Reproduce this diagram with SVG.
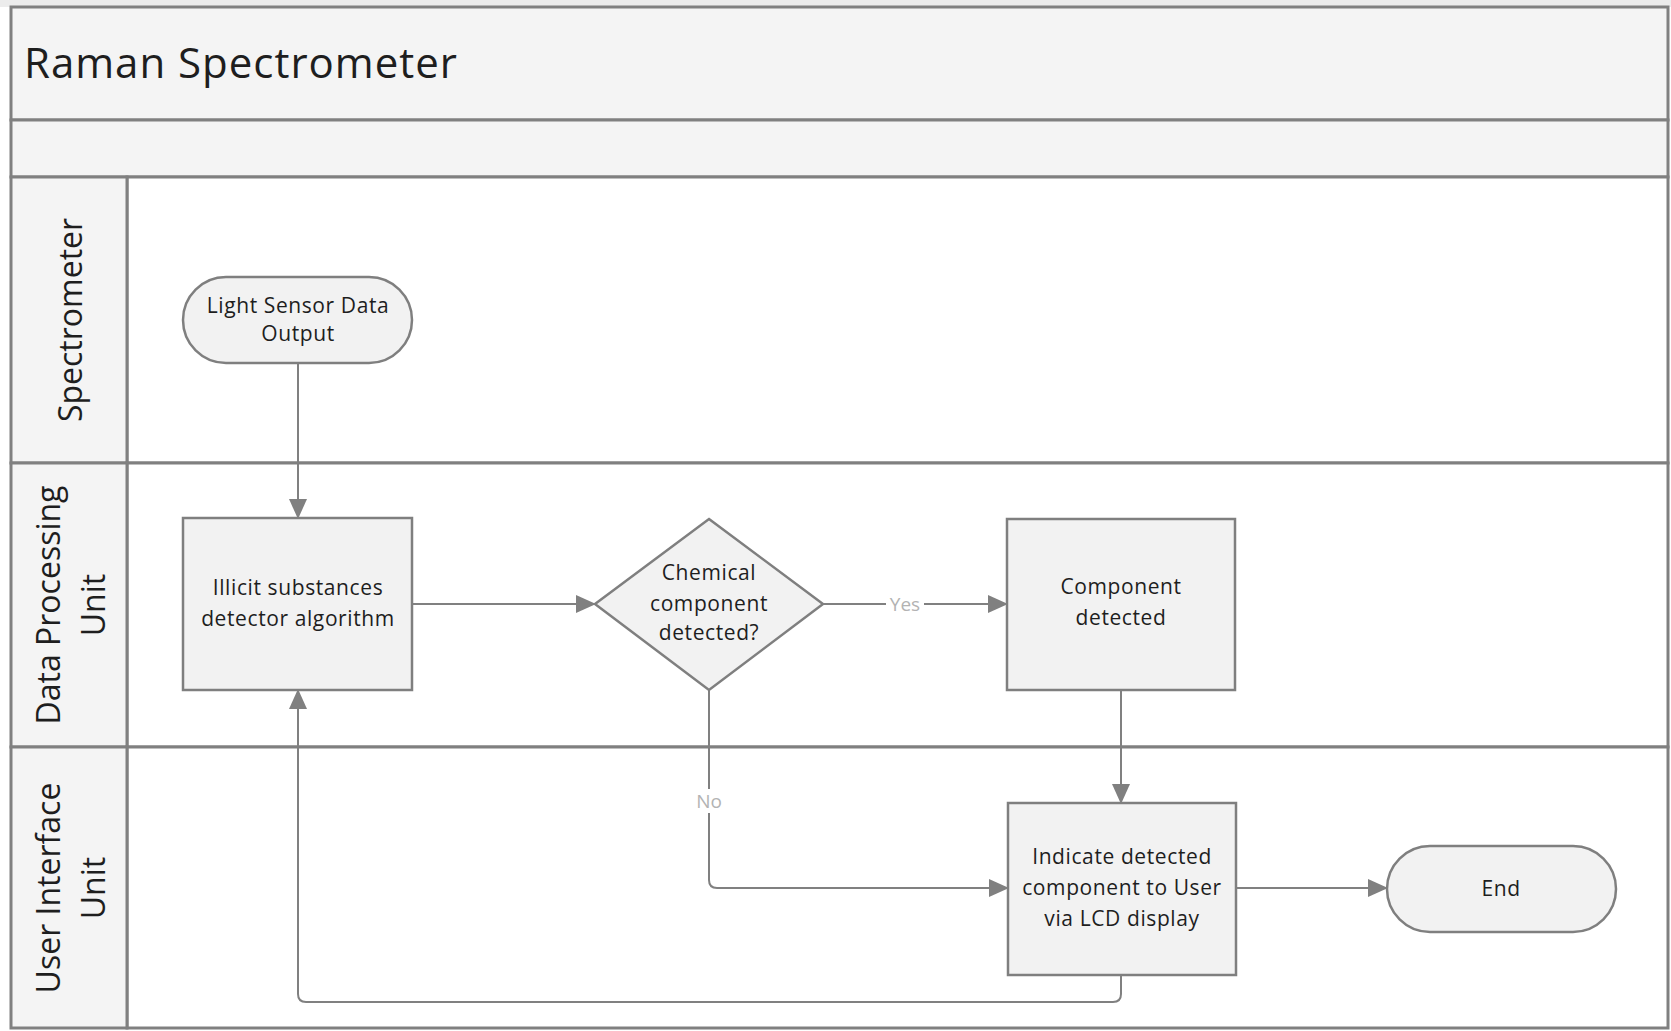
<svg xmlns="http://www.w3.org/2000/svg" width="1671" height="1031" viewBox="0 0 1671 1031">
  <style>
    .band { fill: #f4f4f4; stroke: #808080; stroke-width: 3; }
    .body { fill: #ffffff; stroke: #808080; stroke-width: 3; }
    .shape { fill: #f2f2f2; stroke: #7f7f7f; stroke-width: 2.5; }
    .txt { font-family: "Open Sans", "Liberation Sans", sans-serif; font-size: 21px; letter-spacing: 0.6px; fill: #1e1e1e; text-anchor: middle; }
    .lane { font-family: "Open Sans", "Liberation Sans", sans-serif; font-size: 32px; fill: #1e1e1e; text-anchor: middle; }
    .title { font-family: "Open Sans", "Liberation Sans", sans-serif; font-size: 42px; fill: #1e1e1e; }
    .conn { fill: none; stroke: #808080; stroke-width: 2; }
    .lbl { font-family: "Open Sans", "Liberation Sans", sans-serif; font-size: 19px; fill: #b3b3b3; text-anchor: middle; }
  </style>
  <defs>
    <marker id="arrow" markerUnits="userSpaceOnUse" markerWidth="20" markerHeight="20" viewBox="0 0 20 20" refX="19" refY="10" orient="auto">
      <path d="M0,1 L20,10 L0,19 Z" fill="#808080"/>
    </marker>
  </defs>
  <rect x="0" y="0" width="1671" height="1031" fill="#ffffff"/>
  <rect x="0" y="0" width="1671" height="7" fill="#ececec"/>

  <g id="pool">
    <rect class="band" x="11" y="7" width="1657" height="113"/>
    <text class="title" x="24" y="78" textLength="433" lengthAdjust="spacing">Raman Spectrometer</text>
    <rect class="band" x="11" y="120" width="1657" height="57"/>
    <g id="lane-spectrometer">
      <rect class="body" x="127" y="177" width="1541" height="286"/>
      <rect class="band" x="11" y="177" width="116" height="286"/>
      <text class="lane" transform="translate(82,320) rotate(-90)">Spectrometer</text>
    </g>
    <g id="lane-dpu">
      <rect class="body" x="127" y="463" width="1541" height="284"/>
      <rect class="band" x="11" y="463" width="116" height="284"/>
      <text class="lane" transform="translate(60,605) rotate(-90)">Data Processing</text>
      <text class="lane" transform="translate(105,605) rotate(-90)">Unit</text>
    </g>
    <g id="lane-ui">
      <rect class="body" x="127" y="747" width="1541" height="281"/>
      <rect class="band" x="11" y="747" width="116" height="281"/>
      <text class="lane" transform="translate(60,888) rotate(-90)">User Interface</text>
      <text class="lane" transform="translate(105,888) rotate(-90)">Unit</text>
    </g>
  </g>

  <g id="connectors">
    <path class="conn" d="M298,363 V518" marker-end="url(#arrow)"/>
    <path class="conn" d="M412,604 H595" marker-end="url(#arrow)"/>
    <path class="conn" d="M823,604 H1007" marker-end="url(#arrow)"/>
    <rect x="886" y="592" width="38" height="24" fill="#ffffff"/>
    <text class="lbl" x="905" y="611">Yes</text>
    <path class="conn" d="M709,690 V880 Q709,888 717,888 H1008" marker-end="url(#arrow)"/>
    <rect x="694" y="789" width="30" height="24" fill="#ffffff"/>
    <text class="lbl" x="709" y="808">No</text>
    <path class="conn" d="M1121,690 V803" marker-end="url(#arrow)"/>
    <path class="conn" d="M1236,888 H1387" marker-end="url(#arrow)"/>
    <path class="conn" d="M1121,975 V994 Q1121,1002 1113,1002 H306 Q298,1002 298,994 V690" marker-end="url(#arrow)"/>
  </g>

  <g id="node-light-sensor">
    <rect class="shape" x="183" y="277" width="229" height="86" rx="43" ry="43"/>
    <text class="txt" x="298" y="313">Light Sensor Data</text>
    <text class="txt" x="298" y="341">Output</text>
  </g>
  <g id="node-algorithm">
    <rect class="shape" x="183" y="518" width="229" height="172"/>
    <text class="txt" x="298" y="595">Illicit substances</text>
    <text class="txt" x="298" y="626">detector algorithm</text>
  </g>
  <g id="node-decision">
    <polygon class="shape" points="709,519 823,604 709,690 595,604"/>
    <text class="txt" x="709" y="580">Chemical</text>
    <text class="txt" x="709" y="611">component</text>
    <text class="txt" x="709" y="640">detected?</text>
  </g>
  <g id="node-component-detected">
    <rect class="shape" x="1007" y="519" width="228" height="171"/>
    <text class="txt" x="1121" y="594">Component</text>
    <text class="txt" x="1121" y="625">detected</text>
  </g>
  <g id="node-indicate">
    <rect class="shape" x="1008" y="803" width="228" height="172"/>
    <text class="txt" x="1122" y="864">Indicate detected</text>
    <text class="txt" x="1122" y="895">component to User</text>
    <text class="txt" x="1122" y="926">via LCD display</text>
  </g>
  <g id="node-end">
    <rect class="shape" x="1387" y="846" width="229" height="86" rx="43" ry="43"/>
    <text class="txt" x="1501" y="896">End</text>
  </g>
</svg>
